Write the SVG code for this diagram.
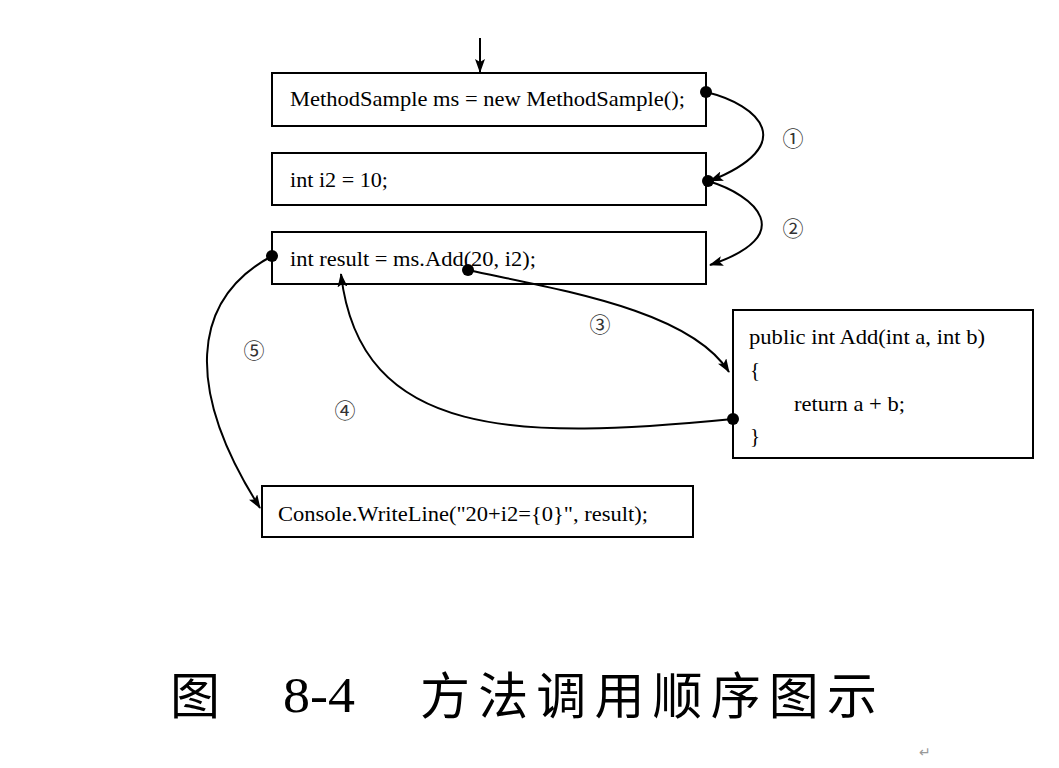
<svg xmlns="http://www.w3.org/2000/svg" width="1059" height="768" viewBox="0 0 1059 768">
<style>
.box{fill:#fff;stroke:#000;stroke-width:2}
.t{font-family:"Liberation Serif","Times New Roman",serif;font-size:21px;fill:#000}
.n{font-family:"Liberation Serif","Noto Sans CJK SC",serif;font-size:21px;fill:#333}
.c{fill:none;stroke:#000;stroke-width:2}
.cap{font-family:"Liberation Serif","Noto Sans CJK SC",serif;font-size:50px;fill:#000}
</style>
<defs>
<marker id="ah" viewBox="0 0 14 10" refX="13" refY="5" markerWidth="14" markerHeight="10" markerUnits="userSpaceOnUse" orient="auto">
<path d="M0,0 L14,5 L0,10 L3,5 Z" fill="#000"/>
</marker>
</defs>
<rect width="1059" height="768" fill="#fff"/>
<g id="n1"><rect class="box" x="272" y="73" width="434" height="53"/><text class="t" x="290" y="106" textLength="395" lengthAdjust="spacingAndGlyphs">MethodSample ms = new MethodSample();</text></g>
<g id="n2"><rect class="box" x="272" y="153" width="434" height="52"/><text class="t" x="290" y="187" textLength="98" lengthAdjust="spacingAndGlyphs">int i2 = 10;</text></g>
<g id="n3"><rect class="box" x="272" y="232" width="434" height="52"/><text class="t" x="290" y="266" textLength="246" lengthAdjust="spacingAndGlyphs">int result = ms.Add(20, i2);</text></g>
<g id="n4"><rect class="box" x="733" y="310" width="300" height="148"/>
<text class="t" x="749" y="344" textLength="236" lengthAdjust="spacingAndGlyphs">public int Add(int a, int b)</text>
<text class="t" x="750" y="377">{</text>
<text class="t" x="794" y="411" textLength="111" lengthAdjust="spacingAndGlyphs">return a + b;</text>
<text class="t" x="750" y="443">}</text></g>
<g id="n5"><rect class="box" x="262" y="486" width="431" height="51"/><text class="t" x="278" y="521" textLength="370" lengthAdjust="spacingAndGlyphs">Console.WriteLine("20+i2={0}", result);</text></g>
<g id="connectors">
<path class="c" d="M480,38 L480,72" marker-end="url(#ah)"/>
<path class="c" d="M706,92 C760,105 800,145 710,181" marker-end="url(#ah)"/>
<path class="c" d="M708,181 C755,195 800,235 710,265" marker-end="url(#ah)"/>
<path class="c" d="M468,270 C560,290 690,310 729,372" marker-end="url(#ah)"/>
<path class="c" d="M733,419 C520,440 360,440 341,274" marker-end="url(#ah)"/>
<path class="c" d="M272,256 C190,300 185,390 260,508" marker-end="url(#ah)"/>
<circle cx="706" cy="92" r="6"/>
<circle cx="708" cy="181" r="6"/>
<circle cx="468" cy="270" r="6"/>
<circle cx="733" cy="419" r="6"/>
<circle cx="272" cy="256" r="6"/>
</g>
<g id="labels">
<text class="n" x="793" y="146" text-anchor="middle">①</text>
<text class="n" x="793" y="236" text-anchor="middle">②</text>
<text class="n" x="600" y="332" text-anchor="middle">③</text>
<text class="n" x="345" y="418" text-anchor="middle">④</text>
<text class="n" x="254" y="358" text-anchor="middle">⑤</text>
</g>
<text class="cap" x="170" y="714">图</text>
<text class="cap" x="283" y="712" font-size="52" textLength="72" lengthAdjust="spacingAndGlyphs">8-4</text>
<text class="cap" x="420" y="714" textLength="457">方法调用顺序图示</text>
<text x="925" y="757" font-family="Liberation Sans, sans-serif" font-size="14" fill="#999" text-anchor="middle">↵</text>
</svg>
